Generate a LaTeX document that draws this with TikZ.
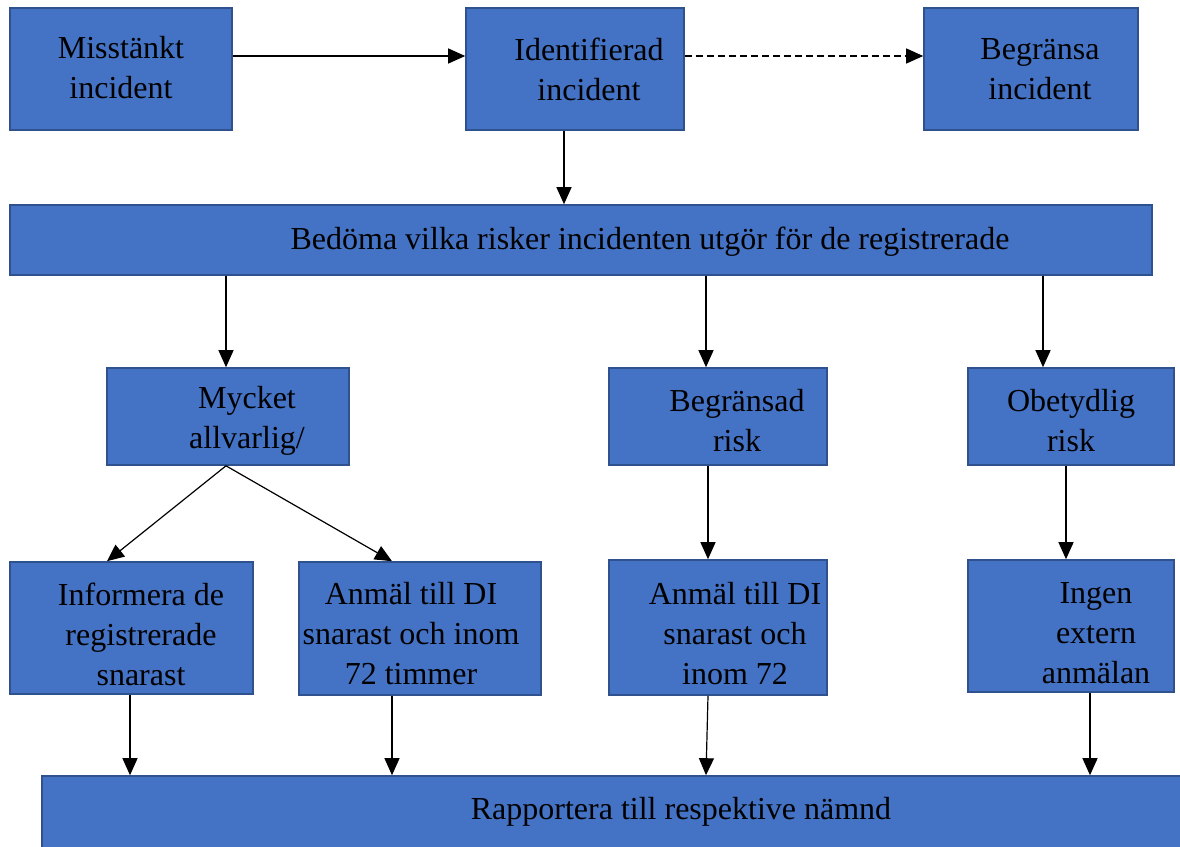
\documentclass[tikz,border=0pt]{standalone}
\usepackage{fontspec}
\setmainfont{Liberation Serif}
\usetikzlibrary{arrows.meta,calc}
\definecolor{boxfill}{HTML}{4472C4}
\definecolor{boxline}{HTML}{2F528F}
\tikzset{
  box/.style={draw=boxline, fill=boxfill, line width=1.6pt, rectangle, inner sep=0pt},
  txt/.style={align=center, inner sep=0pt, font=\fontsize{32}{40}\selectfont, text=black},
  arr/.style={draw=black, line width=1.2pt, -{Triangle[length=17pt,width=15pt]}},
  dasharr/.style={arr, dash pattern=on 7pt off 4pt}
}
\newcommand{\boxat}[5]{% name, x1,y1,x2,y2
  \node[box, minimum width={(#4-#2)*1pt}, minimum height={(#5-#3)*1pt}] (#1) at ({(#2+#4)/2},{(#3+#5)/2}) {};}
\begin{document}
\begin{tikzpicture}[x=1pt,y=-1pt]
\useasboundingbox (0,0) rectangle (1180,846);
\begin{scope}
\clip (0,0) rectangle (1180,846);
% boxes
\boxat{mis}{10}{8}{232}{130}
\boxat{ide}{466}{8}{684}{130}
\boxat{beg}{924}{8}{1138}{130}
\boxat{bed}{10}{205}{1152}{275}
\boxat{myc}{107}{368}{349}{465}
\boxat{bra}{609}{368}{827}{465}
\boxat{obe}{968}{368}{1174}{465}
\boxat{inf}{10}{562}{253}{694}
\boxat{an1}{299}{562}{541}{695}
\boxat{an2}{609}{560}{827}{695}
\boxat{ing}{968}{560}{1174}{692}
\boxat{rap}{42}{776}{1210}{880}
% texts
\node[txt] (mist) at (121,68) {Misstänkt\\incident};
\node[txt] (idet) at (589,69) {Identifierad\\incident};
\node[txt] (begt) at (1040,69) {Begränsa\\incident};
\node[txt] (bedt) at (650,242) {Bedöma vilka risker incidenten utgör för de registrerade};
\node[txt] (myct) at (247,421) {Mycket\\allvarlig/};
\node[txt] (brat) at (737,421) {Begränsad\\risk};
\node[txt] (obet) at (1071,421) {Obetydlig\\risk};
\node[txt] (inft) at (141,634) {Informera de\\registrerade\\snarast};
\node[txt] (an1t) at (411,634) {Anmäl till DI\\snarast och inom\\72 timmer};
\node[txt] (an2t) at (735,634) {Anmäl till DI\\snarast och\\inom 72};
\node[txt] (ingt) at (1096,633) {Ingen\\extern\\anmälan};
\node[txt] (rapt) at (681,812) {Rapportera till respektive nämnd};
% helper coordinates
\coordinate (y56) at (0,56);
\coordinate (x564) at (564,0);
\coordinate (x226) at (226,0);
\coordinate (x706) at (706,0);
\coordinate (x1043) at (1043,0);
\coordinate (x708) at (708,0);
\coordinate (x1066) at (1066,0);
\coordinate (x107) at (107,0);
\coordinate (x392) at (392,0);
\coordinate (x130) at (130,0);
\coordinate (x1090) at (1090,0);
% connectors
\draw[arr] (mis.east |- y56) -- (ide.west |- y56);
\draw[dasharr] (ide.east |- y56) -- (beg.west |- y56);
\draw[arr] (ide.south -| x564) -- (bed.north -| x564);
\draw[arr] (bed.south -| x226) -- (myc.north -| x226);
\draw[arr] (bed.south -| x706) -- (bra.north -| x706);
\draw[arr] (bed.south -| x1043) -- (obe.north -| x1043);
\draw[arr] (myc.south -| x226) -- (inf.north -| x107);
\draw[arr] (myc.south -| x226) -- (an1.north -| x392);
\draw[arr] (bra.south -| x708) -- (an2.north -| x708);
\draw[arr] (obe.south -| x1066) -- (ing.north -| x1066);
\draw[arr] (inf.south -| x130) -- (rap.north -| x130);
\draw[arr] (an1.south -| x392) -- (rap.north -| x392);
\draw[arr] (an2.south -| x708) -- (rap.north -| x706);
\draw[arr] (ing.south -| x1090) -- (rap.north -| x1090);
\end{scope}
\end{tikzpicture}
\end{document}
